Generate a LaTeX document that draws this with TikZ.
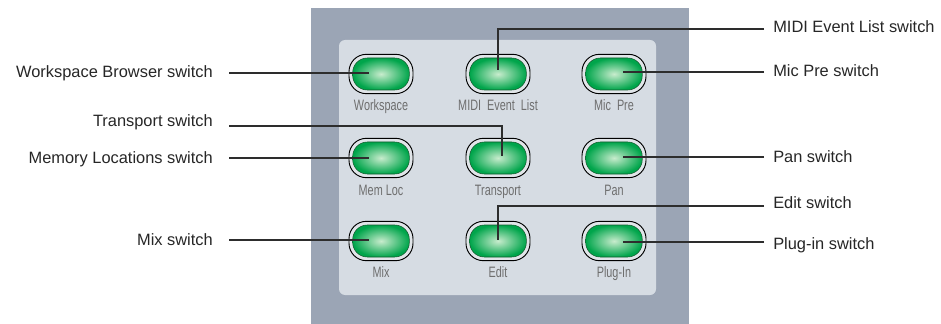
\documentclass[tikz,border=0pt]{standalone}
\usepackage{fontspec}
\setmainfont{Liberation Sans}
\newfontfamily\condfont[FakeStretch=0.72]{Liberation Sans}
\definecolor{outerpanel}{RGB}{155,165,181}
\definecolor{innerpanel}{RGB}{214,220,227}
\definecolor{ring}{RGB}{225,229,233}
\definecolor{greenout}{RGB}{0,165,75}
\definecolor{greenin}{RGB}{200,236,205}
\definecolor{greenedge}{RGB}{20,90,45}
\definecolor{leadercol}{RGB}{45,45,45}
\definecolor{labgray}{RGB}{110,110,110}
\begin{document}
\begin{tikzpicture}[x=0.75pt,y=-0.75pt,
  btnouter/.style={draw=black,line width=0.7pt,fill=ring,rounded corners=13pt,
    minimum width=48pt,minimum height=29.5pt,inner sep=0pt},
  btninner/.style={draw=greenedge,line width=0.4pt,rounded corners=11pt,
    shading=radial,inner color=greenin,outer color=greenout,
    minimum width=42.5pt,minimum height=24pt,inner sep=0pt},
  btnlabel/.style={font=\condfont\fontsize{11.3}{13}\selectfont,text=labgray,inner sep=0pt,anchor=base},
  calllabel/.style={font=\fontsize{12.3}{14}\selectfont,text=black!85,inner sep=0pt},
  leader/.style={draw=leadercol,line width=1.1pt}]
\useasboundingbox (0,0) rectangle (941,324);
% panels
\fill[outerpanel] (311,8) rectangle (689,324);
\fill[innerpanel,rounded corners=4.5pt] (339,40) rectangle (656,295);
% buttons
\foreach \r/\y in {1/74,2/158,3/241}{
  \foreach \c/\x in {1/381,2/498,3/614}{
    \node[btnouter] (b\r\c) at (\x,\y) {};
    \node[btninner] (g\r\c) at (\x,\y) {};
  }
}
% button labels
\node[btnlabel] (l11) at (381,111) {Workspace};
\node[btnlabel] (l12) at (498,111) {MIDI\ \ Event\ \ List};
\node[btnlabel] (l13) at (614,111) {Mic\ \ Pre};
\node[btnlabel] (l21) at (381,195) {Mem Loc};
\node[btnlabel] (l22) at (498,195) {Transport};
\node[btnlabel] (l23) at (614,195) {Pan};
\node[btnlabel] (l31) at (381,277) {Mix};
\node[btnlabel] (l32) at (498,277) {Edit};
\node[btnlabel] (l33) at (614,277) {Plug-In};
% callout labels left
\node[calllabel,anchor=base east] (tws) at (213,78) {Workspace Browser switch};
\node[calllabel,anchor=base east] (ttr) at (213,127) {Transport switch};
\node[calllabel,anchor=base east] (tml) at (213,163) {Memory Locations switch};
\node[calllabel,anchor=base east] (tmx) at (213,245) {Mix switch};
% callout labels right
\node[calllabel,anchor=base west] (tmd) at (773,33) {MIDI Event List switch};
\node[calllabel,anchor=base west] (tmp) at (773,77) {Mic Pre switch};
\node[calllabel,anchor=base west] (tpn) at (773,162) {Pan switch};
\node[calllabel,anchor=base west] (ted) at (773,208) {Edit switch};
\node[calllabel,anchor=base west] (tpl) at (773,249) {Plug-in switch};
% leader start points
\coordinate (cws) at (229,73);
\coordinate (ctr) at (229,126);
\coordinate (cml) at (229,158);
\coordinate (cmx) at (229,240);
\coordinate (cmd) at (764,29);
\coordinate (cmp) at (764,72);
\coordinate (cpn) at (764,157);
\coordinate (ced) at (764,206);
\coordinate (cpl) at (764,242);
\coordinate (tra) at (502,158);
% leaders
\draw[leader,shorten >=9pt] (cws) -- (cws -| b11.center);
\draw[leader,shorten >=1.5pt] (ctr) -| (tra);
\draw[leader,shorten >=9pt] (cml) -- (cml -| b21.center);
\draw[leader,shorten >=9pt] (cmx) -- (cmx -| b31.center);
\draw[leader,shorten >=3pt] (cmd) -| (b12.center);
\draw[leader,shorten >=7pt] (cmp) -- (cmp -| b13.center);
\draw[leader,shorten >=7pt] (cpn) -- (cpn -| b23.center);
\draw[leader,shorten >=1pt] (ced) -| (b32.center);
\draw[leader,shorten >=7pt] (cpl) -- (cpl -| b33.center);
\end{tikzpicture}
\end{document}
